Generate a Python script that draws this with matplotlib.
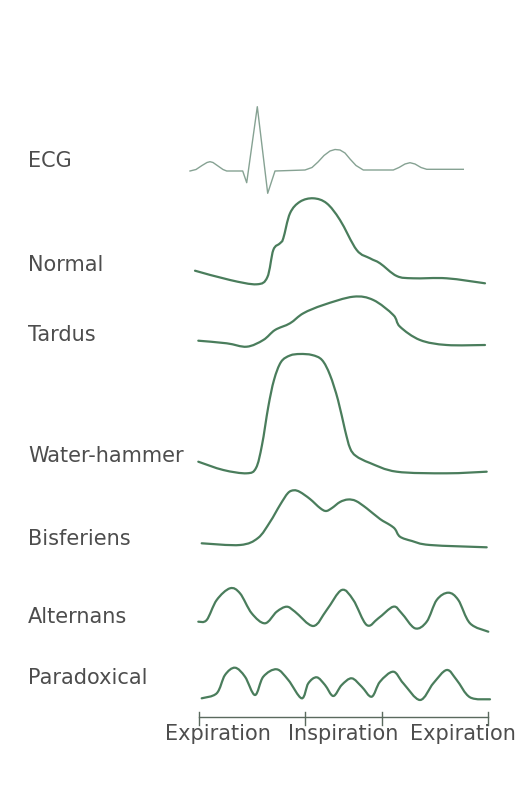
import numpy as np
import matplotlib.pyplot as plt
from matplotlib.path import Path
from matplotlib.patches import PathPatch

# traced points (image pixel coords: x to the right, y downward)
ecg_x = [190, 196, 202, 207, 210, 213, 218, 223, 226.7, 242.7, 246.7, 257.3, 267.7, 275, 305, 312, 318, 324, 330, 335, 340, 345, 350, 356, 363.3, 393.3, 399, 405, 410, 415, 421, 426.7, 463.3]
ecg_y = [171, 169.5, 165.5, 162.5, 161.7, 162.5, 166, 169.5, 171, 171, 182.7, 106.7, 193.3, 171, 170, 167.5, 162, 155.5, 151, 149.5, 150, 153, 159, 165.5, 170, 170, 167.5, 164, 162.7, 164, 167.5, 169.3, 169.3]

normal_x = [195, 230, 256.7, 267.3, 273.3, 280, 283.3, 290, 300, 313.3, 326.7, 340, 356.7, 370, 380, 396.7, 413.3, 446.7, 485]
normal_y = [270.7, 280, 284.3, 277.3, 250, 243.3, 238.3, 213.3, 201.7, 198.3, 203.3, 220, 250, 258.3, 263.3, 276, 278.3, 278.3, 283.3]

tardus_x = [198.3, 226.7, 246.7, 263.3, 275, 290, 303.3, 323.3, 353.3, 373.3, 393.3, 400, 420, 446.7, 485]
tardus_y = [340.7, 343.3, 346.7, 340, 330, 323.3, 313.3, 305, 296.7, 300, 315, 326.7, 340, 345, 345]

hammer_x = [198.3, 223.3, 246.7, 256, 262, 268.3, 274, 281, 290, 300, 312, 322, 330, 338, 345, 350, 356, 370, 396.7, 446.7, 486.7]
hammer_y = [461.7, 470, 473.3, 468, 445, 406.7, 380, 362, 355.5, 354, 355, 360, 375, 400, 430, 448, 456, 463, 471.7, 473.3, 471.7]

bisf_x = [201.7, 240, 258, 270, 280, 288, 294, 300, 310, 320, 326, 332, 340, 348, 356, 366.7, 380, 390, 395, 400, 412, 430, 486.7]
bisf_y = [543.3, 545, 538, 522, 505, 493, 490.3, 492, 499, 508, 511, 508, 502, 499.5, 501, 508.3, 519, 525, 529, 536.7, 541, 545, 547.3]

alt_x = [198.3, 206.7, 216.7, 230, 240, 251.7, 265, 276.7, 286.7, 295, 313.3, 326.7, 341.7, 353.3, 366.7, 378.3, 393.3, 401.7, 415, 426.7, 436.7, 448.3, 458.3, 470, 488.3]
alt_y = [621.7, 620, 600, 588.3, 593.3, 613.3, 623.3, 611.7, 606.7, 611.7, 626, 610, 590, 600, 625, 618.3, 606.7, 613.3, 628.3, 621.7, 600, 592.7, 600, 623.3, 631.7]

para_x = [201.7, 216.7, 225, 235, 245, 255, 263.3, 276.7, 288.3, 301.7, 308.3, 316.7, 325, 333.3, 341.7, 351.7, 361.7, 371.7, 380, 393.3, 403.3, 420, 433.3, 446.7, 456.7, 470, 490]
para_y = [698.3, 693.3, 675, 667.7, 676.7, 695, 676.7, 669.3, 680, 698.3, 683.3, 677.3, 685, 696, 685, 678.3, 686.7, 696.7, 681.7, 671.7, 683.3, 700, 683.3, 670, 680, 697.3, 699.3]

labels = ["ECG", "Normal", "Tardus", "Water-hammer", "Bisferiens", "Alternans", "Paradoxical"]
label_base = [167, 271, 341, 462, 545, 623, 684]

phase_ticks = [199.3, 305, 381.7, 488.3]
phase_labels = ["Expiration", "Inspiration", "Expiration"]
phase_label_x = [218, 343, 463]

green = "#4a7d5c"
text_col = "#4d4d4d"


def smooth_path(xs, ys):
    # Catmull-Rom through the traced points, drawn as cubic Bezier segments
    p = np.column_stack([xs, ys]).astype(float)
    p = np.vstack([p[0], p, p[-1]])
    verts = [p[1]]
    codes = [Path.MOVETO]
    for i in range(1, len(p) - 2):
        c1 = p[i] + (p[i + 1] - p[i - 1]) / 6
        c2 = p[i + 1] - (p[i + 2] - p[i]) / 6
        verts += [c1, c2, p[i + 1]]
        codes += [Path.CURVE4] * 3
    return Path(verts, codes)


fig = plt.figure(figsize=(5.17, 7.99), dpi=100)
ax = fig.add_axes([0, 0, 1, 1])
ax.set_xlim(0, 517)
ax.set_ylim(799, 0)
ax.axis("off")

ax.plot(ecg_x, ecg_y, color="#86a293", lw=1.0, solid_joinstyle="round")

for xs, ys in [(normal_x, normal_y), (tardus_x, tardus_y), (hammer_x, hammer_y),
               (bisf_x, bisf_y), (alt_x, alt_y), (para_x, para_y)]:
    ax.add_patch(PathPatch(smooth_path(xs, ys), fill=False, ec=green, lw=1.6, capstyle="round"))

for lab, yb in zip(labels, label_base):
    ax.text(28, yb, lab, fontsize=15, color=text_col, va="baseline", ha="left",
            family="DejaVu Sans")

# respiration axis
ax.plot([phase_ticks[0], phase_ticks[-1]], [716.7, 716.7], color="#5a6a5e", lw=1.0)
for t in phase_ticks:
    ax.plot([t, t], [711.5, 725], color="#5a6a5e", lw=1.0)
for lab, xc in zip(phase_labels, phase_label_x):
    ax.text(xc, 740, lab, fontsize=15, color=text_col, va="baseline", ha="center",
            family="DejaVu Sans")

fig.savefig("out.png", dpi=100, facecolor="white")
